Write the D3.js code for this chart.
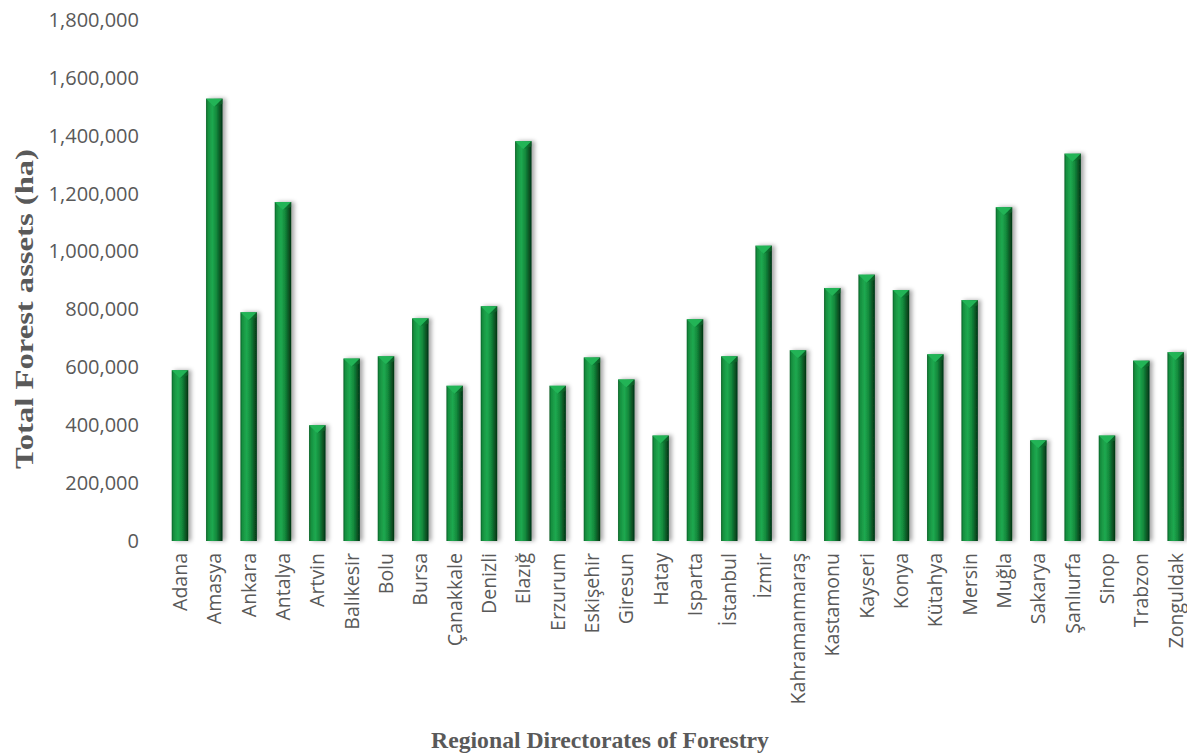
<!DOCTYPE html>
<html>
<head>
<meta charset="utf-8">
<script src="https://cdn.jsdelivr.net/npm/d3@7"></script>
<style>
  html, body { margin: 0; padding: 0; background: #ffffff; }
  svg { display: block; }
</style>
</head>
<body>
<div id="chart"></div>
<script>
const categories = ["Adana","Amasya","Ankara","Antalya","Artvin","Balıkesir","Bolu","Bursa","Çanakkale","Denizli","Elazığ","Erzurum","Eskişehir","Giresun","Hatay","Isparta","İstanbul","İzmir","Kahramanmaraş","Kastamonu","Kayseri","Konya","Kütahya","Mersin","Muğla","Sakarya","Şanlıurfa","Sinop","Trabzon","Zonguldak"];
const forestArea = [590000,1528000,790000,1171000,400000,630000,638000,769000,536000,811000,1381000,536000,634000,558000,364000,766000,638000,1020000,659000,874000,920000,867000,645000,832000,1153000,348000,1338000,364000,623000,652000];
const yTicks = [0,200000,400000,600000,800000,1000000,1200000,1400000,1600000,1800000];
const yTitle = "Total Forest assets (ha)";
const xTitle = "Regional Directorates of Forestry";

const W = 1187, H = 754;
const svg = d3.select("#chart").append("svg").attr("width", W).attr("height", H);

const x = d3.scaleBand().domain(categories).range([162.8, 1192.8]).paddingInner(0.52).paddingOuter(0.26);
const y = d3.scaleLinear().domain([0, 1800000]).range([541, 19.9]);

const defs = svg.append("defs");
const grad = defs.append("linearGradient").attr("id", "barGrad").attr("x1", "0").attr("x2", "1").attr("y1", "0").attr("y2", "0");
[[0, "#0b6229"], [0.12, "#16903f"], [0.38, "#1fa950"], [0.62, "#138a3c"], [0.85, "#095424"], [1, "#033313"]]
  .forEach(([o, c]) => grad.append("stop").attr("offset", o).attr("stop-color", c));
const shadow = defs.append("filter").attr("id", "shadow").attr("x", "-50%").attr("y", "-5%").attr("width", "200%").attr("height", "110%");
shadow.append("feDropShadow").attr("dx", 3).attr("dy", 0).attr("stdDeviation", 2.2).attr("flood-color", "#000").attr("flood-opacity", 0.35);
const lineShadow = defs.append("filter").attr("id", "lshadow").attr("x", "-5%").attr("y", "-200%").attr("width", "110%").attr("height", "500%");
lineShadow.append("feDropShadow").attr("dx", 0).attr("dy", 1.5).attr("stdDeviation", 1).attr("flood-color", "#000").attr("flood-opacity", 0.18);

// gridlines
svg.append("g").selectAll("line").data(yTicks.filter(d => d > 0)).join("line")
  .attr("x1", 162.8).attr("x2", W).attr("y1", d => y(d)).attr("y2", d => y(d))
  .attr("stroke", "#d9d9d9").attr("stroke-width", 1.5).attr("filter", "url(#lshadow)");

// y axis labels
const yAxis = d3.axisLeft(y).tickValues(yTicks).tickFormat(d3.format(",")).tickSize(0).tickPadding(0);
const yg = svg.append("g").attr("transform", "translate(139,0)").call(yAxis);
yg.select(".domain").remove();
yg.selectAll("text").attr("font-family", "'Open Sans', sans-serif").attr("font-size", 20).attr("fill", "#595959");

// bars
const bw = x.bandwidth();
const bars = svg.append("g").selectAll("g").data(categories).join("g")
  .attr("filter", "url(#shadow)");
bars.append("rect")
  .attr("x", d => x(d)).attr("y", (d, i) => y(forestArea[i]))
  .attr("width", bw).attr("height", (d, i) => y(0) - y(forestArea[i]))
  .attr("fill", "url(#barGrad)");
// top bevel
bars.append("path")
  .attr("d", (d, i) => {
    const x0 = x(d), yt = y(forestArea[i]);
    return `M${x0},${yt}L${x0 + bw},${yt}L${x0 + bw / 2},${yt + 8}Z`;
  })
  .attr("fill", "#22b457");
bars.append("path")
  .attr("d", (d, i) => {
    const x0 = x(d), yt = y(forestArea[i]);
    return `M${x0 + bw},${yt}L${x0 + bw},${yt + 5}L${x0 + bw / 2},${yt + 8}Z`;
  })
  .attr("fill", "#0e6e2e").attr("opacity", 0.6);

// x axis line
svg.append("line").attr("x1", 162.8).attr("x2", W).attr("y1", y(0)).attr("y2", y(0))
  .attr("stroke", "#d0d0d0").attr("stroke-width", 1.5).attr("filter", "url(#lshadow)");

// x axis labels
const xAxis = d3.axisBottom(x).tickSize(0).tickPadding(0);
const xg = svg.append("g").attr("transform", `translate(0,${y(0)})`).call(xAxis);
xg.select(".domain").remove();
xg.selectAll("text")
  .attr("font-family", "'Open Sans', sans-serif").attr("font-size", 19.5).attr("fill", "#595959")
  .attr("text-anchor", "end").attr("transform", "rotate(-90)")
  .attr("x", -12).attr("y", 0).attr("dy", "0.36em");

// titles
svg.append("text").attr("transform", "translate(33,309) rotate(-90)")
  .attr("text-anchor", "middle").attr("font-family", "'Liberation Serif', 'Times New Roman', serif")
  .attr("font-weight", "bold").attr("font-size", 25).attr("fill", "#595959")
  .attr("textLength", 320).attr("lengthAdjust", "spacingAndGlyphs").text(yTitle);
svg.append("text").attr("x", 600).attr("y", 748)
  .attr("text-anchor", "middle").attr("font-family", "'Liberation Serif', 'Times New Roman', serif")
  .attr("font-weight", "bold").attr("font-size", 23.7).attr("fill", "#595959").text(xTitle);
</script>
</body>
</html>
